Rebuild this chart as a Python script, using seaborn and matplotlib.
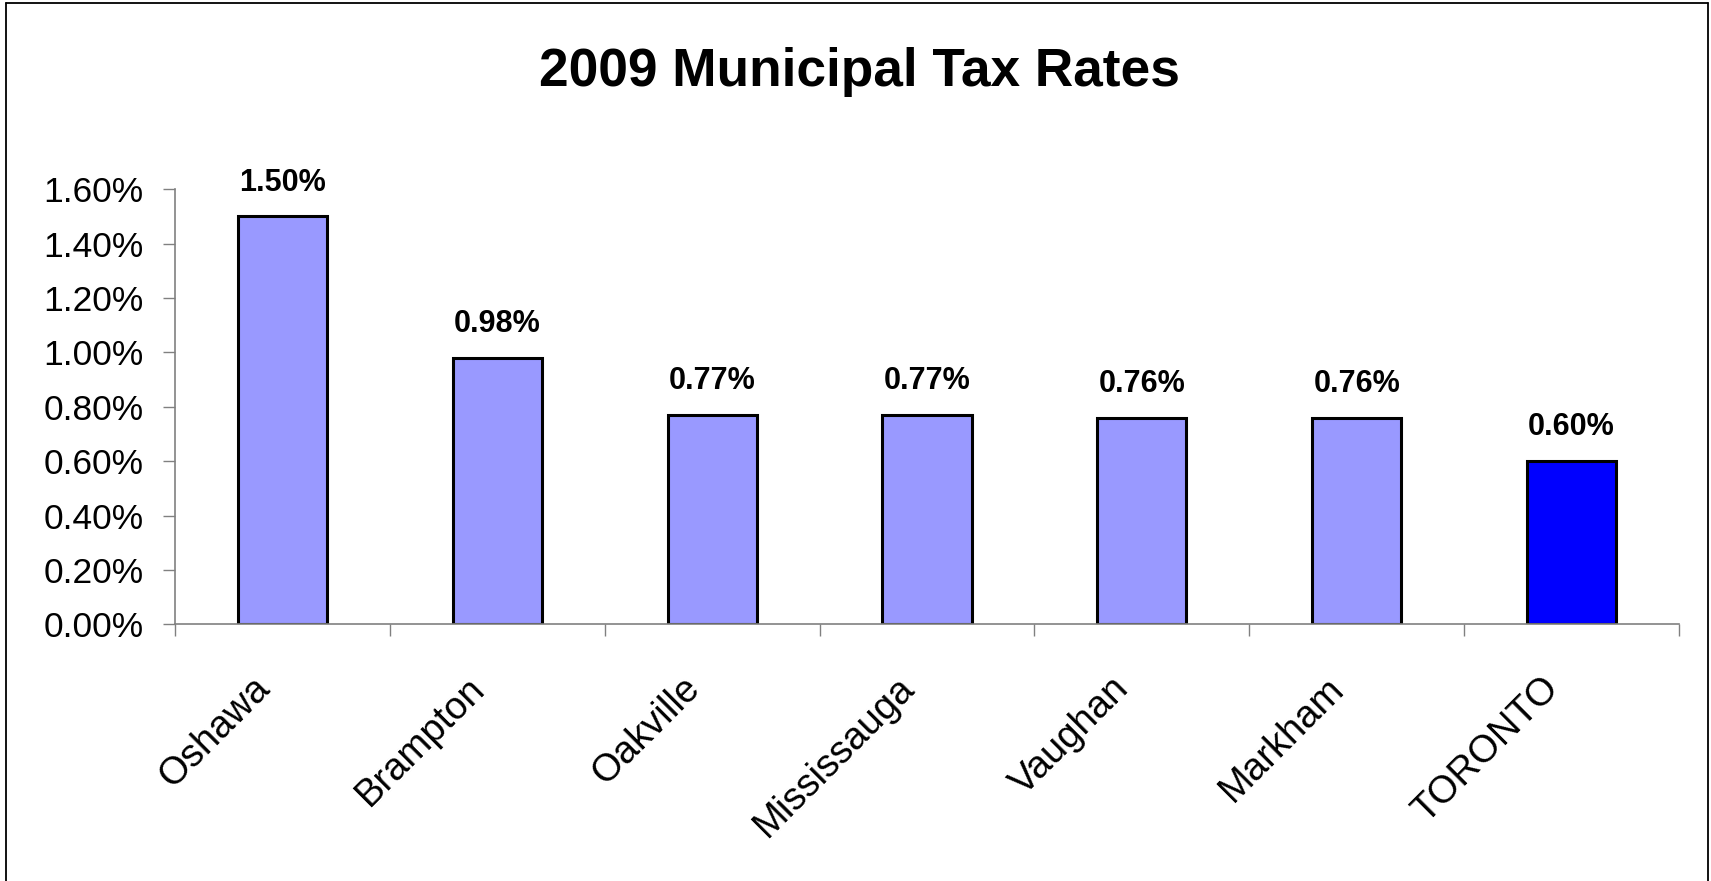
import matplotlib
matplotlib.use("Agg")
import matplotlib.pyplot as plt
from matplotlib.lines import Line2D
from matplotlib.ticker import FixedLocator, FuncFormatter
from matplotlib.transforms import ScaledTranslation
import pandas as pd
import seaborn as sns

# 2009 municipal property tax rates (percent)
cities = ["Oshawa", "Brampton", "Oakville", "Mississauga", "Vaughan", "Markham", "TORONTO"]
rates = [1.50, 0.98, 0.77, 0.77, 0.76, 0.76, 0.60]
bar_colors = ["#9999FF", "#9999FF", "#9999FF", "#9999FF", "#9999FF", "#9999FF", "#0000FF"]
y_ticks = [0.0, 0.2, 0.4, 0.6, 0.8, 1.0, 1.2, 1.4, 1.6]

sns.set_theme(style="white")
plt.rcParams["font.family"] = ["Liberation Sans", "DejaVu Sans"]

df = pd.DataFrame({"city": cities, "rate": rates})

W, H, DPI = 1711, 881, 100
fig = plt.figure(figsize=(W / DPI, H / DPI), dpi=DPI, facecolor="white")
ax = fig.add_axes([175 / W, (H - 624.3) / H, (1679 - 175) / W, (624.3 - 189.3) / H])

sns.barplot(
    data=df, x="city", y="rate", hue="city", order=cities, hue_order=cities,
    palette=bar_colors, legend=False, width=0.415, saturation=1,
    edgecolor="black", linewidth=2.2, ax=ax,
)

ax.set_xlim(-0.5, len(cities) - 0.5)
ax.set_ylim(0, 1.6)
ax.yaxis.set_major_locator(FixedLocator(y_ticks))
ax.yaxis.set_major_formatter(FuncFormatter(lambda v, _: f"{v:.2f}%"))

# category separators as outward ticks on the x axis
ax.xaxis.set_minor_locator(FixedLocator([i - 0.5 for i in range(len(cities) + 1)]))
ax.tick_params(axis="x", which="major", length=0, pad=33, labelsize=27.5, labelcolor="black")
ax.tick_params(axis="x", which="minor", bottom=True, length=8.5, width=1, color="#808080", direction="out")
ax.tick_params(axis="y", which="major", left=True, length=8.5, width=1, color="#808080",
               direction="out", pad=14, labelsize=25.5, labelcolor="black")
shift_left = ScaledTranslation(-31 / DPI, 0, fig.dpi_scale_trans)
for lbl in ax.get_xticklabels():
    lbl.set_rotation(45)
    lbl.set_ha("right")
    lbl.set_va("top")
    lbl.set_rotation_mode("anchor")
    lbl.set_transform(lbl.get_transform() + shift_left)

for side in ("top", "right"):
    ax.spines[side].set_visible(False)
for side in ("left", "bottom"):
    ax.spines[side].set_color("#808080")
    ax.spines[side].set_linewidth(1.2)

ax.set_xlabel("")
ax.set_ylabel("")

# value labels above each bar
for i, v in enumerate(rates):
    ax.annotate(f"{v:.2f}%", xy=(i, v), xytext=(0, 18.5), textcoords="offset points",
                ha="center", va="baseline", fontsize=22, fontweight="bold", color="black")

fig.text(859 / W, 1 - 86 / H, "2009 Municipal Tax Rates", ha="center", va="baseline",
         fontsize=38.3, fontweight="bold", color="black")

# chart frame
frame_kw = dict(transform=fig.transFigure, color="black", linewidth=1.3)
fig.add_artist(Line2D([6 / W, 6 / W], [0, 1 - 3 / H], **frame_kw))
fig.add_artist(Line2D([6 / W, 1708 / W], [1 - 3 / H, 1 - 3 / H], **frame_kw))
fig.add_artist(Line2D([1708 / W, 1708 / W], [0, 1 - 3 / H], **frame_kw))

fig.savefig("out.png", dpi=DPI, facecolor="white")
